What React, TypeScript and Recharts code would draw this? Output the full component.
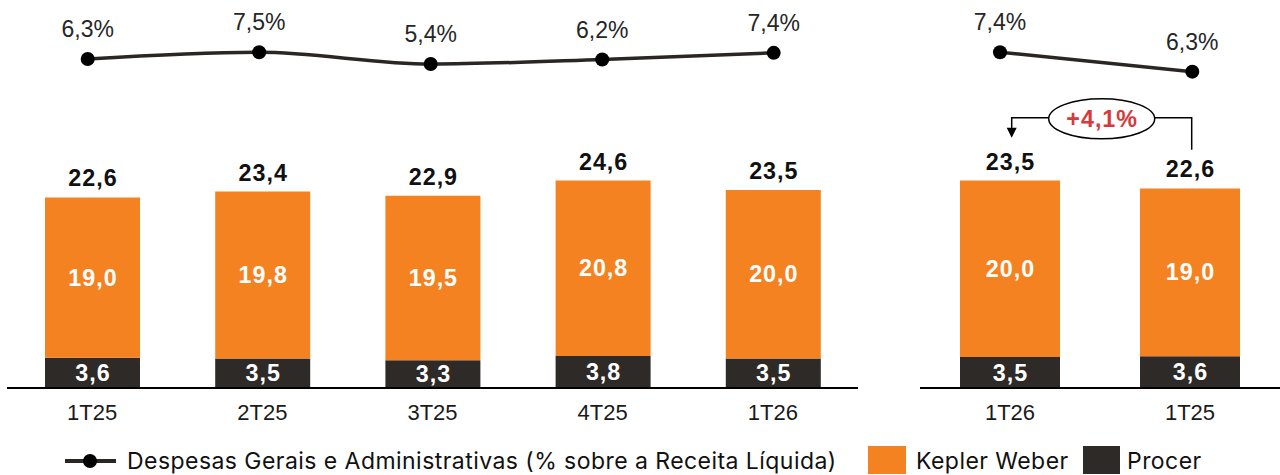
import React from 'react';
import { BarChart, Bar, XAxis, YAxis, LabelList, LineChart, Line, ReferenceLine } from 'recharts';

// ---------- data ----------
const leftCategories = ['1T25', '2T25', '3T25', '4T25', '1T26'];
const leftProcer = [3.6, 3.5, 3.3, 3.8, 3.5];
const leftKepler = [19.0, 19.8, 19.5, 20.8, 20.0];
const leftTotals = [22.6, 23.4, 22.9, 24.6, 23.5];
const leftGA = [6.3, 7.5, 5.4, 6.2, 7.4];

const rightCategories = ['1T26', '1T25'];
const rightProcer = [3.5, 3.6];
const rightKepler = [20.0, 19.0];
const rightTotals = [23.5, 22.6];
const rightGA = [7.4, 6.3];
const growthLabel = '+4,1%';
const growthBracketLevel = 30.6;

const lineLegend = 'Despesas Gerais e Administrativas (% sobre a Receita Líquida)';
const keplerLegend = 'Kepler Weber';
const procerLegend = 'Procer';

// ---------- styles ----------
const ORANGE = '#F58220';
const DARK = '#2E2A27';
const LINE = '#2A2624';
const FONT = '"Liberation Sans", Arial, sans-serif';
const LEGEND_FONT = 'Inter, "Noto Sans", sans-serif';

const leftBars = leftCategories.map((cat, i) => ({
  cat,
  procer: leftProcer[i],
  kepler: leftKepler[i],
  total: leftTotals[i],
}));
const rightBars = rightCategories.map((cat, i) => ({
  cat,
  procer: rightProcer[i],
  kepler: rightKepler[i],
  total: rightTotals[i],
}));
const leftLine = leftCategories.map((cat, i) => ({ cat, ga: leftGA[i] }));
const rightLine = rightCategories.map((cat, i) => ({ cat, ga: rightGA[i] }));

const fmt = (v: number) => v.toFixed(1).replace('.', ',');

const boldText = {
  fontFamily: FONT,
  fontWeight: 'bold' as const,
  fontSize: 23.3,
  letterSpacing: 1,
};

const InsideLabel = (props: any) => {
  const { x, y, width, height, value } = props;
  return (
    <text
      x={x + width / 2 + 0.5}
      y={y + height / 2}
      textAnchor="middle"
      dominantBaseline="central"
      fill="#fff"
      {...boldText}
    >
      {fmt(value)}
    </text>
  );
};

const TotalLabel = (props: any) => {
  const { x, y, width, value } = props;
  return (
    <text
      x={x + width / 2 + 0.5}
      y={y - 19}
      textAnchor="middle"
      dominantBaseline="central"
      fill="#111"
      {...boldText}
    >
      {fmt(value)}
    </text>
  );
};

const PctLabel = (props: any) => {
  const { x, y, value } = props;
  return (
    <text
      x={x}
      y={y - 30}
      textAnchor="middle"
      dominantBaseline="central"
      fill="#262626"
      fontFamily={FONT}
      fontSize={23}
    >
      {fmt(value)}%
    </text>
  );
};

const Bracket = (props: any) => {
  const { x1, y1, x2 } = props;
  const lx = x1 + 1.7;
  const rxp = x2 + 1.7;
  const cx = (lx + rxp) / 2;
  const rx = 53;
  const ry = 20;
  return (
    <g>
      <path d={`M${cx - rx},${y1} H${lx} V${y1 + 11}`} stroke="#000" strokeWidth={1.5} fill="none" />
      <polygon points={`${lx - 5},${y1 + 10} ${lx + 5},${y1 + 10} ${lx},${y1 + 20}`} fill="#000" />
      <path d={`M${cx + rx},${y1} H${rxp} V${y1 + 32}`} stroke="#000" strokeWidth={1.5} fill="none" />
      <ellipse cx={cx} cy={y1 + 1} rx={rx} ry={ry} fill="#fff" stroke="#000" strokeWidth={1.5} />
      <text
        x={cx + 0.5}
        y={y1 + 1}
        textAnchor="middle"
        dominantBaseline="central"
        fill="#D63A3A"
        {...boldText}
      >
        {growthLabel}
      </text>
    </g>
  );
};

const tickStyle = { fontSize: 22, fill: '#1a1a1a', fontFamily: FONT };

const legendText = {
  position: 'absolute' as const,
  top: 447,
  height: 28,
  lineHeight: '28px',
  fontFamily: LEGEND_FONT,
  fontSize: 23,
  letterSpacing: 0.45,
  color: '#111',
  whiteSpace: 'nowrap' as const,
};

export default function App() {
  return (
    <div
      style={{
        position: 'absolute',
        left: 0,
        top: 0,
        width: 1280,
        height: 475,
        overflow: 'hidden',
        background: '#fff',
      }}
    >
      {/* left bars */}
      <div style={{ position: 'absolute', left: 0, top: 0 }}>
        <BarChart width={870} height={430} data={leftBars} margin={{ top: 10, right: 12, bottom: 12, left: 7 }}>
          <XAxis
            dataKey="cat"
            height={30}
            axisLine={{ stroke: '#000', strokeWidth: 2 }}
            tickLine={false}
            tickMargin={10}
            tick={tickStyle}
            interval={0}
          />
          <YAxis hide domain={[0, 44.84]} />
          <Bar dataKey="procer" stackId="s" fill={DARK} barSize={95} isAnimationActive={false}>
            <LabelList dataKey="procer" content={InsideLabel} />
          </Bar>
          <Bar dataKey="kepler" stackId="s" fill={ORANGE} barSize={95} isAnimationActive={false}>
            <LabelList dataKey="kepler" content={InsideLabel} />
            <LabelList dataKey="total" content={TotalLabel} />
          </Bar>
        </BarChart>
      </div>

      {/* right bars */}
      <div style={{ position: 'absolute', left: 900, top: 0 }}>
        <BarChart width={380} height={430} data={rightBars} margin={{ top: 10, right: 0, bottom: 12, left: 20 }}>
          <XAxis
            dataKey="cat"
            height={30}
            axisLine={{ stroke: '#000', strokeWidth: 2 }}
            tickLine={false}
            tickMargin={10}
            tick={tickStyle}
            interval={0}
          />
          <YAxis hide domain={[0, 42.81]} />
          <Bar dataKey="procer" stackId="s" fill={DARK} barSize={100} isAnimationActive={false}>
            <LabelList dataKey="procer" content={InsideLabel} />
          </Bar>
          <Bar dataKey="kepler" stackId="s" fill={ORANGE} barSize={100} isAnimationActive={false}>
            <LabelList dataKey="kepler" content={InsideLabel} />
            <LabelList dataKey="total" content={TotalLabel} />
          </Bar>
          <ReferenceLine
            segment={[
              { x: rightCategories[0], y: growthBracketLevel },
              { x: rightCategories[1], y: growthBracketLevel },
            ]}
            shape={Bracket}
          />
        </BarChart>
      </div>

      {/* left line */}
      <div style={{ position: 'absolute', left: 0, top: 0 }}>
        <LineChart width={870} height={120} data={leftLine} margin={{ top: 0, right: 96.3, bottom: 0, left: 87.7 }}>
          <XAxis dataKey="cat" hide scale="point" padding={{ left: 0, right: 0 }} />
          <YAxis hide domain={[-4.65, 16.89]} />
          <Line
            type="monotone"
            dataKey="ga"
            stroke={LINE}
            strokeWidth={3.5}
            dot={{ r: 7, fill: '#000', stroke: '#000', strokeWidth: 0 }}
            isAnimationActive={false}
          >
            <LabelList dataKey="ga" content={PctLabel} />
          </Line>
        </LineChart>
      </div>

      {/* right line */}
      <div style={{ position: 'absolute', left: 900, top: 0 }}>
        <LineChart width={380} height={120} data={rightLine} margin={{ top: 0, right: 87.7, bottom: 0, left: 100 }}>
          <XAxis dataKey="cat" hide scale="point" padding={{ left: 0, right: 0 }} />
          <YAxis hide domain={[3.56, 10.36]} />
          <Line
            type="linear"
            dataKey="ga"
            stroke={LINE}
            strokeWidth={3.5}
            dot={{ r: 7, fill: '#000', stroke: '#000', strokeWidth: 0 }}
            isAnimationActive={false}
          >
            <LabelList dataKey="ga" content={PctLabel} />
          </Line>
        </LineChart>
      </div>

      {/* legend */}
      <svg style={{ position: 'absolute', left: 60, top: 450 }} width={60} height={22}>
        <line x1={5} y1={11} x2={56} y2={11} stroke={LINE} strokeWidth={4} />
        <circle cx={30} cy={11} r={7} fill="#000" />
      </svg>
      <div style={{ ...legendText, left: 127 }}>{lineLegend}</div>
      <div style={{ position: 'absolute', left: 868, top: 446, width: 38, height: 28, background: ORANGE }} />
      <div style={{ ...legendText, left: 916 }}>{keplerLegend}</div>
      <div style={{ position: 'absolute', left: 1083, top: 446, width: 37, height: 28, background: DARK }} />
      <div style={{ ...legendText, left: 1127 }}>{procerLegend}</div>
    </div>
  );
}
